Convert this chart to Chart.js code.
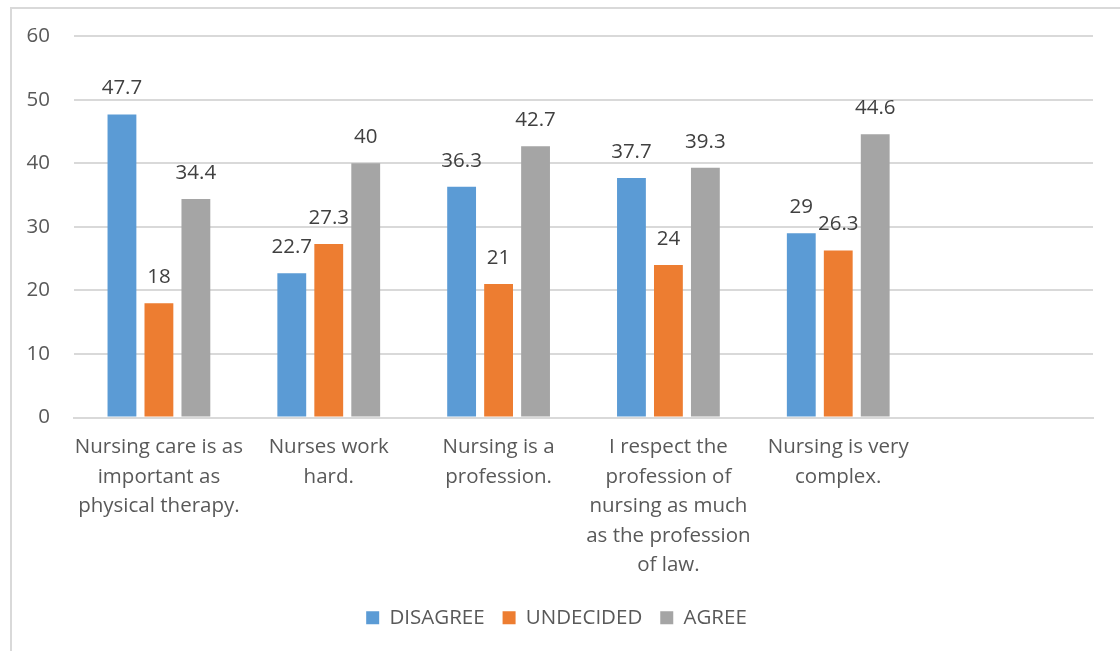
<!DOCTYPE html>
<html>
<head>
<meta charset="utf-8">
<script src="https://cdn.jsdelivr.net/npm/chart.js@4/dist/chart.umd.min.js"></script>
<style>
  html, body { margin: 0; padding: 0; background: #fff; overflow: hidden; }
  #wrap { position: relative; width: 1120px; height: 651px; }
  #frame { position: absolute; left: 10px; top: 7px; width: 1200px; height: 700px; border: 2px solid #d9d9d9; box-sizing: border-box; }
  canvas { position: absolute; left: 0; top: 0; }
</style>
</head>
<body>
<div id="wrap">
  <div id="frame"></div>
  <canvas id="chart" width="1120" height="651"></canvas>
</div>
<script>
const categories = [
    ['Nursing care is as', 'important as', 'physical therapy.'],
    ['Nurses work', 'hard.'],
    ['Nursing is a', 'profession.'],
    ['I respect the', 'profession of', 'nursing as much', 'as the profession', 'of law.'],
    ['Nursing is very', 'complex.'],
    ''
];
const disagree = [47.7, 22.7, 36.3, 37.7, 29, null];
const undecided = [18, 27.3, 21, 24, 26.3, null];
const agree = [34.4, 40, 42.7, 39.3, 44.6, null];
const yTicks = [0, 10, 20, 30, 40, 50, 60];

const FONT = '"Open Sans", Lato, sans-serif';
const textColor = '#595959';

// draw value above each bar
const valueLabels = {
    id: 'valueLabels',
    afterDatasetsDraw(chart) {
        const ctx = chart.ctx;
        ctx.save();
        ctx.font = '20.5px ' + FONT;
        ctx.fillStyle = '#404040';
        ctx.textAlign = 'center';
        ctx.textBaseline = 'middle';
        chart.data.datasets.forEach((ds, i) => {
            const meta = chart.getDatasetMeta(i);
            meta.data.forEach((bar, j) => {
                const v = ds.data[j];
                if (v === null || v === undefined) return;
                ctx.fillText(String(v), bar.x, bar.y - 26);
            });
        });
        ctx.restore();
    }
};

const ctx = document.getElementById('chart').getContext('2d');
const chart = new Chart(ctx, {
    type: 'bar',
    data: {
        labels: categories,
        datasets: [
            { label: 'DISAGREE', data: disagree, backgroundColor: '#5b9bd5' },
            { label: 'UNDECIDED', data: undecided, backgroundColor: '#ed7d31' },
            { label: 'AGREE', data: agree, backgroundColor: '#a5a5a5' }
        ]
    },
    options: {
        responsive: false,
        animation: false,
        devicePixelRatio: 1,
        categoryPercentage: 0.653,
        barPercentage: 0.78,
        layout: { padding: { left: 20, right: 27, top: 30, bottom: 13 } },
        plugins: {
            tooltip: { enabled: false },
            legend: {
                position: 'bottom',
                labels: {
                    font: { family: FONT, size: 20.5 },
                    color: textColor,
                    boxWidth: 13,
                    boxHeight: 13,
                    padding: 18
                }
            }
        },
        scales: {
            x: {
                grid: { display: false, drawTicks: false },
                border: { color: '#d9d9d9', width: 2 },
                ticks: {
                    font: { family: FONT, size: 20.5, lineHeight: 1.44 },
                    color: textColor,
                    maxRotation: 0,
                    autoSkip: false,
                    padding: 15
                },
                afterFit(scale) { scale.height = 172; }
            },
            y: {
                min: 0,
                max: 60,
                afterBuildTicks(scale) { scale.ticks = yTicks.map(v => ({ value: v })); },
                grid: { color: '#d9d9d9', lineWidth: 2, drawTicks: false },
                border: { display: false },
                ticks: {
                    font: { family: FONT, size: 20.5 },
                    color: textColor,
                    padding: 24
                },
                afterFit(scale) { scale.width = 54; }
            }
        }
    },
    plugins: [valueLabels]
});
</script>
</body>
</html>
